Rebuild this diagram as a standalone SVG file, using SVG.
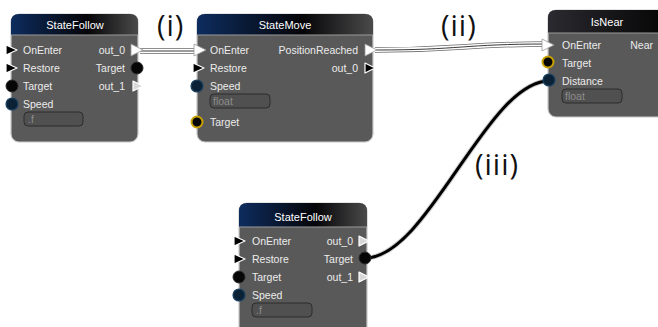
<svg xmlns="http://www.w3.org/2000/svg" width="658" height="327" viewBox="0 0 658 327">
<defs>
<linearGradient id="hdr" x1="0" y1="0" x2="1" y2="0">
<stop offset="0" stop-color="#0d2c5e"/>
<stop offset="0.6" stop-color="#050508"/>
<stop offset="1" stop-color="#4a4a4a"/>
</linearGradient>
<linearGradient id="hdr2" x1="0" y1="0" x2="1" y2="0">
<stop offset="0" stop-color="#2a2a30"/>
<stop offset="1" stop-color="#050505"/>
</linearGradient>
</defs>
<style>
.body{fill:#595959;stroke:#c9c9c9;stroke-width:1.2}
.sep{stroke:#9a9a9a;stroke-width:1}
.title{font-family:"Liberation Sans",Arial,sans-serif;font-size:11px;fill:#ffffff;text-anchor:middle}
.lbl{font-family:"Liberation Sans",Arial,sans-serif;font-size:10.5px;fill:#ececec}
.r{text-anchor:end}
.fld{fill:#505050;stroke:#2c2c2c;stroke-width:1}
.fldt{font-family:"Liberation Sans",Arial,sans-serif;font-size:10.5px;fill:#8c8c8c}
.tin{fill:#000;stroke:#fff;stroke-width:1.2;stroke-linejoin:round}
.tcon{fill:#fff;stroke:#999;stroke-width:0.8;stroke-linejoin:round}
.tout{fill:#d8d8d8;stroke:#fff;stroke-width:1.2;stroke-linejoin:round}
.pblk{fill:#060606;stroke:#2a2a2a;stroke-width:1}
.pnav{fill:#0b2236;stroke:#1b4262;stroke-width:1.2}
.pyel{fill:#050505;stroke:#c9a200;stroke-width:2}
.wire-o{fill:none;stroke:#6a6a6a;stroke-width:5.5}
.wire-w{fill:none;stroke:#ffffff;stroke-width:4}
.wire-c{fill:none;stroke:#3a3a3a;stroke-width:1}
.dwire-h{fill:none;stroke:#9a9a9a;stroke-width:5;stroke-opacity:0.5}
.dwire{fill:none;stroke:#000;stroke-width:3}
.tag{font-family:"Open Sans","DejaVu Sans",sans-serif;font-size:29px;fill:#111;letter-spacing:1px}
</style>
<rect width="658" height="327" fill="#ffffff"/>

<g id="connectors">
<path class="wire-o" d="M140,51 H198"/>
<path class="wire-w" d="M140,51 H198"/>
<path class="wire-c" d="M140,51 H198"/>
<path class="wire-o" d="M375,50 C462,50 462,44 548,44"/>
<path class="wire-w" d="M375,50 C462,50 462,44 548,44"/>
<path class="wire-c" d="M375,50 C462,50 462,44 548,44"/>
<path class="dwire-h" d="M365,258 C428,258 487,81 549,81"/>
<path class="dwire" d="M365,258 C428,258 487,81 549,81"/>
</g>

<g id="labels">
<text class="tag" x="157" y="36">(i)</text>
<text class="tag" x="441" y="36">(ii)</text>
<text class="tag" x="475" y="175">(iii)</text>
</g>

<g id="node-statefollow-1">
<rect class="body" x="11" y="14" width="127" height="128" rx="8"/>
<path d="M11,35 V22 Q11,14 19,14 H130 Q138,14 138,22 V35 Z" fill="url(#hdr)"/>
<line class="sep" x1="11" y1="35" x2="138" y2="35"/>
<text class="title" x="75" y="29">StateFollow</text>
<polygon class="tin" points="6,45 17,50 6,55"/>
<polygon class="tin" points="6,63 17,68 6,73"/>
<circle class="pblk" cx="12" cy="86" r="6"/>
<circle class="pnav" cx="12" cy="104" r="6"/>
<text class="lbl" x="23" y="54">OnEnter</text>
<text class="lbl" x="23" y="72">Restore</text>
<text class="lbl" x="23" y="90">Target</text>
<text class="lbl" x="23" y="108">Speed</text>
<rect class="fld" x="24" y="112" width="59" height="14" rx="4"/>
<text class="fldt" x="28" y="123">.f</text>
<text class="lbl r" x="125" y="54">out_0</text>
<text class="lbl r" x="125" y="72">Target</text>
<text class="lbl r" x="125" y="90">out_1</text>
<polygon class="tcon" points="131,44 143,50 131,56"/>
<circle class="pblk" cx="137" cy="68" r="6"/>
<polygon class="tout" points="133,81 143,86 133,91"/>
</g>

<g id="node-statemove">
<rect class="body" x="197" y="14" width="176" height="128" rx="8"/>
<path d="M197,35 V22 Q197,14 205,14 H365 Q373,14 373,22 V35 Z" fill="url(#hdr)"/>
<line class="sep" x1="197" y1="35" x2="373" y2="35"/>
<text class="title" x="285" y="29">StateMove</text>
<polygon class="tcon" points="194,44 206,50 194,56"/>
<polygon class="tin" points="193,63 204,68 193,73"/>
<circle class="pnav" cx="197" cy="86" r="6"/>
<circle class="pyel" cx="197" cy="122" r="5.5"/>
<text class="lbl" x="210" y="54">OnEnter</text>
<text class="lbl" x="210" y="72">Restore</text>
<text class="lbl" x="210" y="90">Speed</text>
<rect class="fld" x="210" y="94" width="60" height="14" rx="4"/>
<text class="fldt" x="213" y="105">float</text>
<text class="lbl" x="210" y="126">Target</text>
<text class="lbl r" x="358" y="54">PositionReached</text>
<text class="lbl r" x="358" y="72">out_0</text>
<polygon class="tcon" points="365,44 377,50 365,56"/>
<polygon class="tin" points="365,63 375,68 365,73"/>
</g>

<g id="node-isnear">
<rect class="body" x="548" y="10" width="120" height="107" rx="8"/>
<path d="M548,33 V18 Q548,10 556,10 H660 Q668,10 668,18 V33 Z" fill="url(#hdr2)"/>
<line class="sep" x1="548" y1="33" x2="668" y2="33"/>
<text class="title" x="607" y="26">IsNear</text>
<polygon class="tcon" points="542,39 554,45 542,51"/>
<circle class="pyel" cx="548" cy="62" r="5.5"/>
<circle class="pnav" cx="549" cy="80" r="6"/>
<text class="lbl" x="562" y="49">OnEnter</text>
<text class="lbl" x="562" y="67">Target</text>
<text class="lbl" x="562" y="85">Distance</text>
<rect class="fld" x="562" y="89" width="60" height="14" rx="4"/>
<text class="fldt" x="565" y="100">float</text>
<text class="lbl r" x="653" y="49">Near</text>
</g>

<g id="node-statefollow-2">
<rect class="body" x="239" y="203" width="128" height="140" rx="8"/>
<path d="M239,227 V211 Q239,203 247,203 H359 Q367,203 367,211 V227 Z" fill="url(#hdr)"/>
<line class="sep" x1="239" y1="227" x2="367" y2="227"/>
<text class="title" x="303" y="221">StateFollow</text>
<polygon class="tin" points="234,236 245,241 234,246"/>
<polygon class="tin" points="234,254 245,259 234,264"/>
<circle class="pblk" cx="239" cy="277" r="6"/>
<circle class="pnav" cx="239" cy="295" r="6"/>
<text class="lbl" x="252" y="245">OnEnter</text>
<text class="lbl" x="252" y="263">Restore</text>
<text class="lbl" x="252" y="281">Target</text>
<text class="lbl" x="252" y="299">Speed</text>
<rect class="fld" x="252" y="303" width="60" height="14" rx="4"/>
<text class="fldt" x="256" y="314">.f</text>
<text class="lbl r" x="353" y="245">out_0</text>
<text class="lbl r" x="353" y="263">Target</text>
<text class="lbl r" x="353" y="281">out_1</text>
<polygon class="tout" points="359,236 369,241 359,246"/>
<circle class="pblk" cx="365" cy="258" r="6"/>
<polygon class="tout" points="359,272 369,277 359,282"/>
</g>
</svg>
